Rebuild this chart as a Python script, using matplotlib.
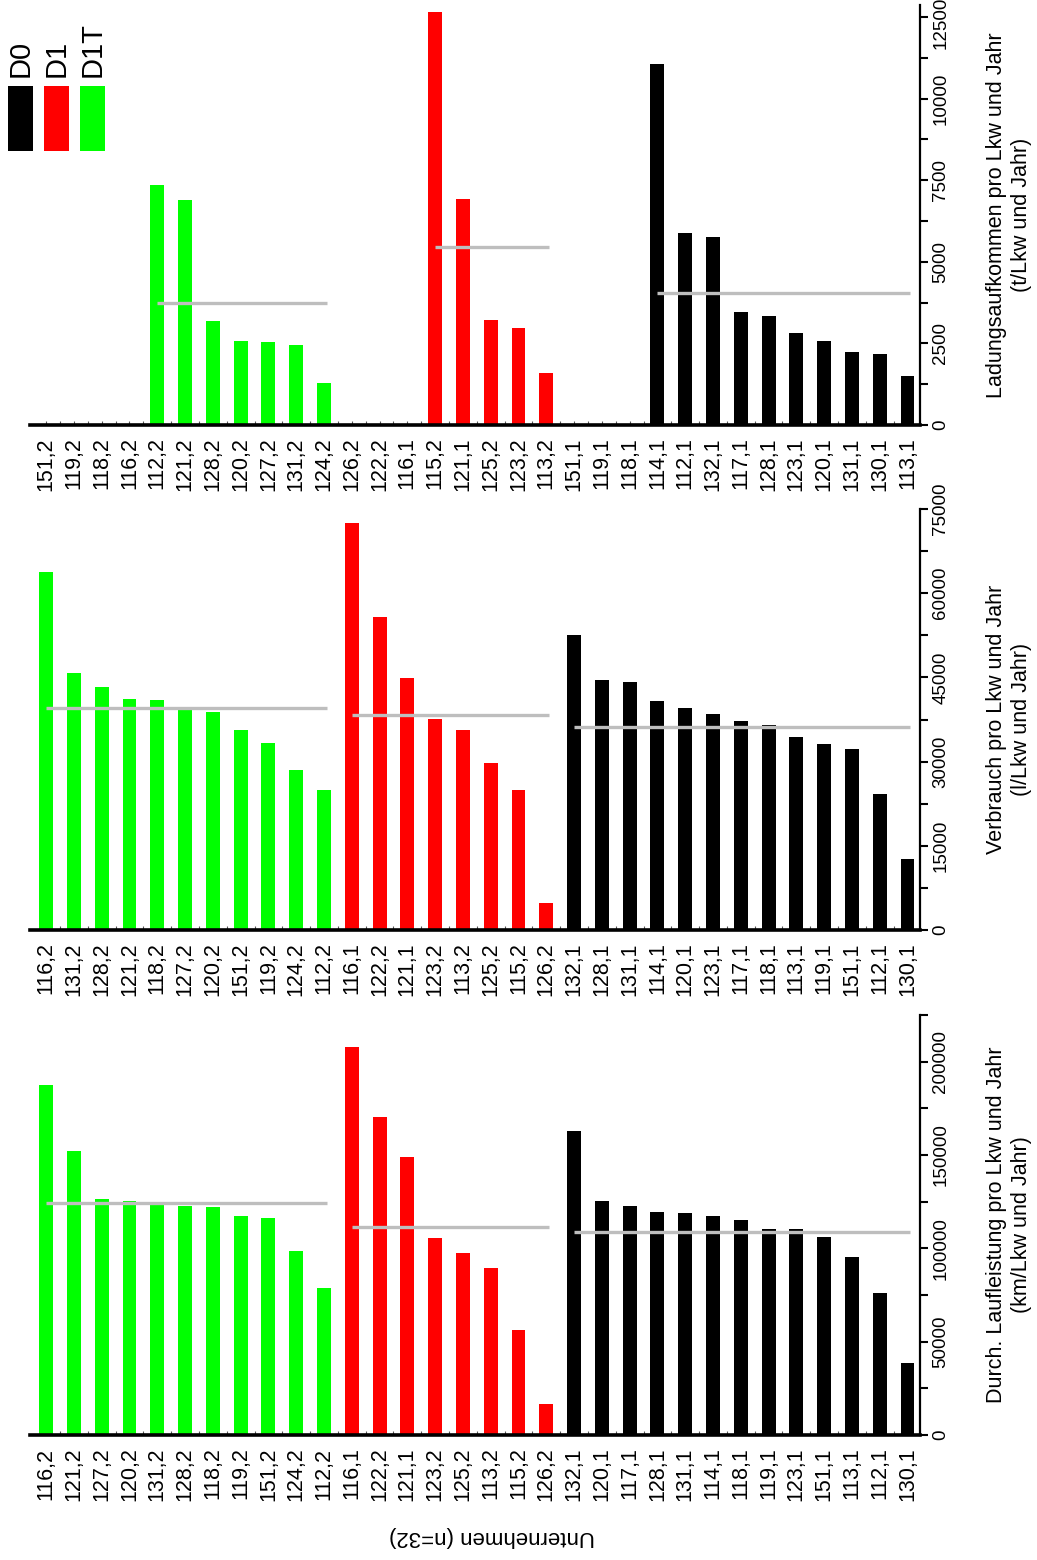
import numpy as np
import matplotlib
matplotlib.use("Agg")
import matplotlib.pyplot as plt
from matplotlib.patches import Rectangle
from matplotlib.ticker import MultipleLocator, FixedLocator
from matplotlib.transforms import ScaledTranslation

plt.rcParams['font.family'] = ['Liberation Sans', 'DejaVu Sans']

# groups in drawing order (left to right)
groups = ['D1T', 'D1', 'D0']
group_sizes = [11, 8, 13]
group_colors = {'D0': '#000000', 'D1': '#ff0000', 'D1T': '#00ff00'}
legend_order = ['D0', 'D1', 'D1T']

# Ladungsaufkommen (t/Lkw und Jahr), None = no value
load_labels = ['151,2', '119,2', '118,2', '116,2', '112,2', '121,2', '128,2', '120,2', '127,2', '131,2', '124,2',
               '126,2', '122,2', '116,1', '115,2', '121,1', '125,2', '123,2', '113,2',
               '151,1', '119,1', '118,1', '114,1', '112,1', '132,1', '117,1', '128,1', '123,1', '120,1',
               '131,1', '130,1', '113,1']
load_values = [None, None, None, None, 7350, 6890, 3190, 2570, 2540, 2450, 1290,
               None, None, None, 12650, 6920, 3220, 2970, 1590,
               None, None, None, 11060, 5880, 5760, 3460, 3340, 2820, 2570, 2240, 2180, 1500]
load_means = [3740, 5450, 4040]

# Verbrauch (l/Lkw und Jahr)
fuel_labels = ['116,2', '131,2', '128,2', '121,2', '118,2', '127,2', '120,2', '151,2', '119,2', '124,2', '112,2',
               '116,1', '122,2', '121,1', '123,2', '113,2', '125,2', '115,2', '126,2',
               '132,1', '128,1', '131,1', '114,1', '120,1', '123,1', '117,1', '118,1', '113,1', '119,1',
               '151,1', '112,1', '130,1']
fuel_values = [63760, 45770, 43280, 41140, 40970, 39360, 38820, 35620, 33300, 28500, 24930,
               72490, 55750, 44880, 37580, 35620, 29740, 24930, 4810,
               52540, 44530, 44170, 40790, 39540, 38470, 37220, 36510, 34370, 33130, 32240, 24220, 12650]
fuel_means = [39540, 38290, 36150]

# Durch. Laufleistung (km/Lkw und Jahr)
dist_labels = ['116,2', '121,2', '127,2', '120,2', '131,2', '128,2', '118,2', '119,2', '151,2', '124,2', '112,2',
               '116,1', '122,2', '121,1', '123,2', '125,2', '113,2', '115,2', '126,2',
               '132,1', '120,1', '117,1', '128,1', '131,1', '114,1', '118,1', '119,1', '123,1', '151,1',
               '113,1', '112,1', '130,1']
dist_values = [187700, 152300, 126500, 125500, 123300, 122800, 122300, 117400, 116400, 98660, 78820,
               208000, 170500, 149100, 105600, 97590, 89550, 56300, 16620,
               163000, 125500, 122800, 119600, 119000, 117400, 115300, 110500, 110500, 106200,
               95440, 76140, 38610]
dist_means = [124400, 111500, 108800]

panels = [
    (load_labels, load_values, load_means, 'Ladungsaufkommen pro Lkw und Jahr\n(t/Lkw und Jahr)',
     12870, 2500, 1250),
    (fuel_labels, fuel_values, fuel_means, 'Verbrauch pro Lkw und Jahr\n(l/Lkw und Jahr)',
     75000, 15000, 7500),
    (dist_labels, dist_values, dist_means, 'Durch. Laufleistung pro Lkw und Jahr\n(km/Lkw und Jahr)',
     225000, 50000, 25000),
]

W, H = 1037, 1560
fig = plt.figure(figsize=(W / 100, H / 100), dpi=100)

# axes boxes in pixels: (top, bottom)
boxes = [(5, 425), (509, 930), (1015, 1435)]
left_px, right_px = 30, 920

bar_colors = []
for g, n in zip(groups, group_sizes):
    bar_colors += [group_colors[g]] * n
starts = np.cumsum([0] + group_sizes[:-1])

axes = []
for (labels, values, means, ylab, ymax, major, minor), (t, b) in zip(panels, boxes):
    ax = fig.add_axes([left_px / W, 1 - b / H, (right_px - left_px) / W, (b - t) / H])
    axes.append(ax)
    x = np.arange(len(labels))
    vals = np.array([np.nan if v is None else v for v in values], dtype=float)
    ax.bar(x, np.nan_to_num(vals), width=0.5, color=bar_colors, zorder=2)

    # group mean lines
    for s, n, m in zip(starts, group_sizes, means):
        idx = [i for i in range(s, s + n) if not np.isnan(vals[i])]
        ax.plot([idx[0], idx[-1] + 0.1], [m, m], color='#bebebe', lw=2.4, zorder=3,
                solid_capstyle='butt')

    ax.set_xlim(-0.58, 31.45)
    ax.set_ylim(0, ymax)

    for side in ['left', 'top']:
        ax.spines[side].set_visible(False)
    ax.spines['bottom'].set_linewidth(2.6)
    ax.spines['right'].set_linewidth(1.6)
    ax.spines['bottom'].set_zorder(4)

    ax.set_xticks(x)
    ax.set_xticklabels(labels, rotation=90, fontsize=15.5)
    ax.xaxis.set_minor_locator(FixedLocator(x[:-1] + 0.5))
    ax.tick_params(axis='x', which='both', direction='in', length=3, width=0.8,
                   color='#555555', pad=9)

    ax.yaxis.tick_right()
    ax.yaxis.set_major_locator(MultipleLocator(major))
    ax.yaxis.set_minor_locator(MultipleLocator(minor))
    ax.tick_params(axis='y', which='both', direction='out', length=6, width=1.5)
    ax.tick_params(axis='y', which='major', labelsize=13.5, pad=3)
    ax.text(1.1, 0.5, ylab, rotation=90, ha='center', va='center', fontsize=15.5,
            multialignment='center', linespacing=1.2, transform=ax.transAxes)

fig.canvas.draw()
for ax in axes:
    for lbl in ax.get_yticklabels():
        lbl.set_rotation(90)
        lbl.set_va('center')
# top label of the upper panel sits right at the figure edge
top_lbl = [l for l in axes[0].get_yticklabels() if l.get_text() == '12500']
for l in top_lbl:
    l.set_transform(l.get_transform() + ScaledTranslation(0, -6 / 100, fig.dpi_scale_trans))

fig.text(492 / W, 1 - 1537 / H, 'Unternehmen (n=32)', rotation=180, ha='center', va='center',
         fontsize=16)

# legend drawn by hand
leg_x = [8, 44, 80]
for g, lx in zip(legend_order, leg_x):
    fig.patches.append(Rectangle((lx / W, 1 - 151 / H), 25 / W, 65 / H, transform=fig.transFigure,
                                 facecolor=group_colors[g], edgecolor='none'))
    fig.text((lx + 13) / W, 1 - 77 / H, g, rotation=90, ha='center', va='bottom', fontsize=21)

fig.savefig('out.png', dpi=100)
